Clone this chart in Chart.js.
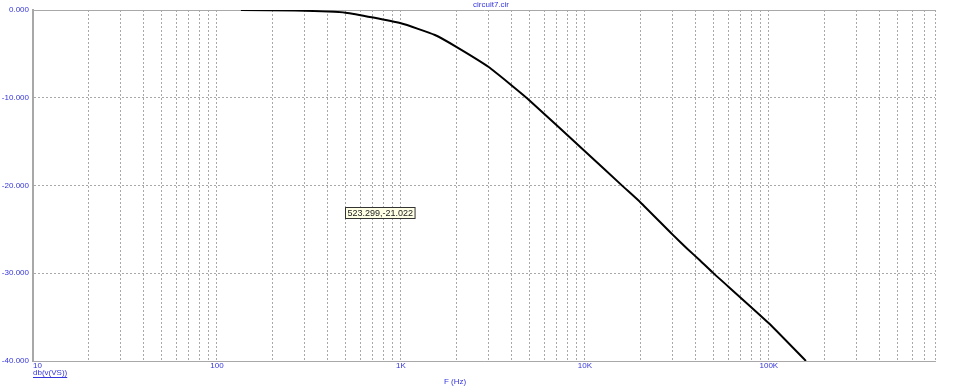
<html>
<head>
    <script src="https://cdn.jsdelivr.net/npm/chart.js@4"></script>
    <style>
        body { margin: 0; background: #fff; }
        #wrap { width: 978px; height: 389px; }
    </style>
</head>
<body>
<div id="wrap"><canvas id="bodeChart"></canvas></div>
<script>
    // frequency (Hz) and gain (dB)
    var freqHz = [135, 265, 500, 1000, 1530, 2000, 3000, 4000, 5000, 10000, 16100, 20000, 30000, 36000, 42000, 49400, 100000, 159000];
    var gainDb = [0, -0.06, -0.3, -1.52, -2.85, -4.2, -6.5, -8.6, -10.3, -16.1, -20.1, -21.9, -25.6, -27.2, -28.5, -29.9, -35.7, -40.0];

    var xTickValues = [10, 100, 1000, 10000, 100000];
    var xTickLabels = ['10', '100', '1K', '10K', '100K'];
    var xMin = 10, xMax = 800000;
    var yMin = -40, yMax = 0, yStep = 10;

    var chartTitle = 'circuit7.cir';
    var xTitle = 'F (Hz)';
    var yTitle = 'db(v(VS))';
    var cursorLabel = { x: 523.299, y: -21.022 };

    var blue = '#3535dd';
    var gridGray = '#a8a8a8';

    var points = freqHz.map(function (f, i) { return { x: f, y: gainDb[i] }; });

    var textPlugin = {
        id: 'textPlugin',
        afterDraw: function (chart) {
            var c = chart.ctx;
            var a = chart.chartArea;
            var xs = chart.scales.x, ys = chart.scales.y;
            c.save();
            c.font = '8px "Liberation Sans", Arial, sans-serif';
            c.fillStyle = blue;
            c.textBaseline = 'middle';
            // title
            c.textAlign = 'center';
            c.fillText(chartTitle, 491, 5);
            // x title
            c.fillText(xTitle, 455, 382);
            // y trace name, underlined
            c.textAlign = 'left';
            c.fillText(yTitle, a.left, 373);
            var w = c.measureText(yTitle).width;
            c.strokeStyle = blue;
            c.lineWidth = 1;
            c.beginPath();
            c.moveTo(a.left, 377.5);
            c.lineTo(a.left + w, 377.5);
            c.stroke();
            // cursor label box
            var txt = cursorLabel.x.toFixed(3) + ',' + cursorLabel.y.toFixed(3);
            c.font = '9px "Liberation Sans", Arial, sans-serif';
            var tw = c.measureText(txt).width;
            var bx = Math.round(xs.getPixelForValue(cursorLabel.x)) - 3.5;
            var by = Math.round(ys.getPixelForValue(cursorLabel.y)) + 13.5;
            c.fillStyle = '#ffffe6';
            c.fillRect(bx, by, tw + 4, 11);
            c.strokeStyle = '#333';
            c.strokeRect(bx, by, tw + 4, 11);
            c.fillStyle = '#222';
            c.fillText(txt, bx + 2, by + 6);
            c.restore();
        }
    };

    var allXTicks = [];
    for (var d = 10; d <= xMax; d *= 10) {
        for (var m = 1; m <= 9; m++) {
            if (d * m <= xMax) allXTicks.push(d * m);
        }
    }

    var ctx = document.getElementById('bodeChart');
    var myChart = new Chart(ctx, {
        type: 'scatter',
        data: {
            datasets: [{
                label: yTitle,
                data: points,
                showLine: true,
                borderColor: '#000',
                borderWidth: 2,
                pointRadius: 0,
                tension: 0.15
            }]
        },
        options: {
            responsive: true,
            maintainAspectRatio: false,
            animation: false,
            layout: { padding: { left: 0, right: 43, top: 10, bottom: 0 } },
            plugins: {
                legend: { display: false },
                tooltip: { enabled: false }
            },
            scales: {
                x: {
                    type: 'logarithmic',
                    min: xMin,
                    max: xMax,
                    afterBuildTicks: function (axis) {
                        axis.ticks = allXTicks.map(function (v) { return { value: v }; });
                    },
                    afterFit: function (axis) { axis.height = 28; },
                    ticks: {
                        autoSkip: false,
                        maxRotation: 0,
                        padding: 0,
                        align: 'inner',
                        color: blue,
                        font: { family: '"Liberation Sans", Arial, sans-serif', size: 8 },
                        callback: function (value) {
                            var i = xTickValues.indexOf(value);
                            return i >= 0 ? xTickLabels[i] : '';
                        }
                    },
                    grid: { color: gridGray, lineWidth: 1, drawTicks: false },
                    border: { display: true, color: gridGray, width: 1, dash: [2, 2] }
                },
                y: {
                    min: yMin,
                    max: yMax,
                    afterFit: function (axis) { axis.width = 33; },
                    ticks: {
                        stepSize: yStep,
                        padding: 4,
                        color: blue,
                        font: { family: '"Liberation Sans", Arial, sans-serif', size: 8 },
                        callback: function (value) { return Number(value).toFixed(3); }
                    },
                    grid: { color: gridGray, lineWidth: 1, drawTicks: false },
                    border: {
                        display: true,
                        color: gridGray,
                        width: 2,
                        dash: function (c) {
                            if (c.tick && (c.tick.value === yMax || c.tick.value === yMin)) return [];
                            return [2, 2];
                        }
                    }
                }
            }
        },
        plugins: [textPlugin]
    });
</script>
</body>
</html>
